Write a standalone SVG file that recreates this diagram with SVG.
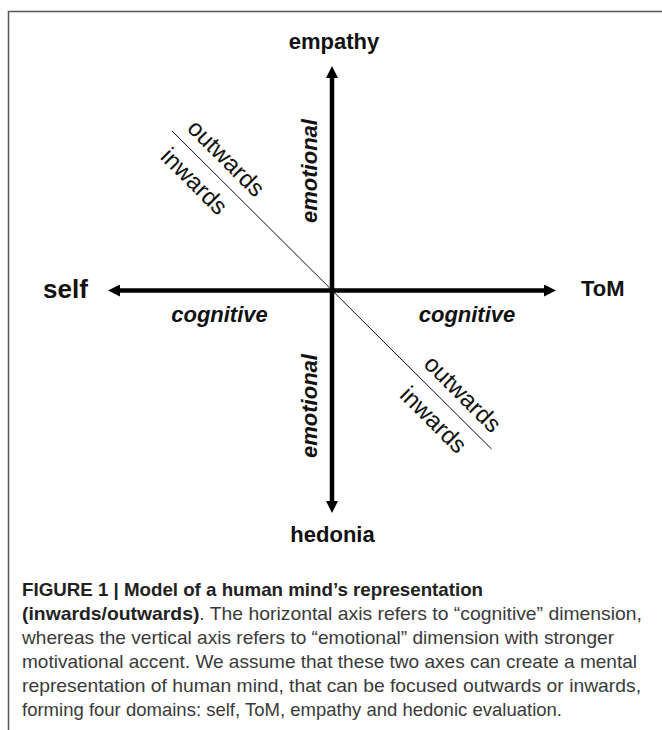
<svg xmlns="http://www.w3.org/2000/svg" width="662" height="730" viewBox="0 0 662 730">
<style>
.lbl{font-family:"Liberation Sans",Arial,sans-serif;font-weight:bold;fill:#111;}
.ax{font-family:"Liberation Sans",Arial,sans-serif;font-weight:bold;font-style:italic;font-size:22px;fill:#111;}
.dir{font-family:"Liberation Sans",Arial,sans-serif;font-size:24px;fill:#111;text-anchor:middle;}
.cap{font-family:"Liberation Sans",Arial,sans-serif;font-size:19px;fill:#3a3a3a;}
.capb{font-weight:bold;fill:#222;}
.axis{stroke:#000;stroke-width:4.5;fill:none;}
</style>
<defs>
<marker id="ah" markerUnits="userSpaceOnUse" viewBox="0 0 12 12" markerWidth="12" markerHeight="12" refX="1" refY="6" orient="auto-start-reverse">
<path d="M0,0 L12,6 L0,12 z" fill="#000"/>
</marker>
</defs>
<rect x="8.5" y="11.5" width="700" height="800" fill="none" stroke="#555" stroke-width="1.5"/>
<g id="connectors">
<line class="axis" x1="119" y1="290.5" x2="545" y2="290.5" marker-start="url(#ah)" marker-end="url(#ah)"/>
<line class="axis" x1="332" y1="77" x2="332" y2="502" marker-start="url(#ah)" marker-end="url(#ah)"/>
<line x1="172" y1="131" x2="491.5" y2="449" stroke="#111" stroke-width="1"/>
</g>
<g id="empathy"><text class="lbl" x="334" y="48.5" font-size="22" text-anchor="middle">empathy</text></g>
<g id="hedonia"><text class="lbl" x="332.5" y="541.5" font-size="22" text-anchor="middle">hedonia</text></g>
<g id="self"><text class="lbl" x="43" y="297.5" font-size="26">self</text></g>
<g id="tom"><text class="lbl" x="581" y="295.5" font-size="22">ToM</text></g>
<g id="axis-labels">
<text class="ax" x="219.5" y="321.5" text-anchor="middle">cognitive</text>
<text class="ax" x="467" y="321.5" text-anchor="middle">cognitive</text>
<text class="ax" transform="translate(317,171) rotate(-90)" text-anchor="middle">emotional</text>
<text class="ax" transform="translate(317,406) rotate(-90)" text-anchor="middle">emotional</text>
</g>
<g id="direction-labels">
<text class="dir" transform="translate(220.5,163.9) rotate(45)">outwards</text>
<text class="dir" transform="translate(188.5,187.1) rotate(45)">inwards</text>
<text class="dir" transform="translate(457,399.6) rotate(45)">outwards</text>
<text class="dir" transform="translate(427.8,425.6) rotate(45)">inwards</text>
</g>
<g id="caption">
<text class="cap capb" x="22" y="596" textLength="461" lengthAdjust="spacingAndGlyphs">FIGURE 1 | Model of a human mind’s representation</text>
<text class="cap" x="22" y="620" textLength="620" lengthAdjust="spacingAndGlyphs"><tspan class="capb">(inwards/outwards)</tspan>. The horizontal axis refers to “cognitive” dimension,</text>
<text class="cap" x="22" y="644" textLength="592" lengthAdjust="spacingAndGlyphs">whereas the vertical axis refers to “emotional” dimension with stronger</text>
<text class="cap" x="22" y="668" textLength="615" lengthAdjust="spacingAndGlyphs">motivational accent. We assume that these two axes can create a mental</text>
<text class="cap" x="22" y="692" textLength="619" lengthAdjust="spacingAndGlyphs">representation of human mind, that can be focused outwards or inwards,</text>
<text class="cap" x="22" y="716" textLength="540" lengthAdjust="spacingAndGlyphs">forming four domains: self, ToM, empathy and hedonic evaluation.</text>
</g>
</svg>
